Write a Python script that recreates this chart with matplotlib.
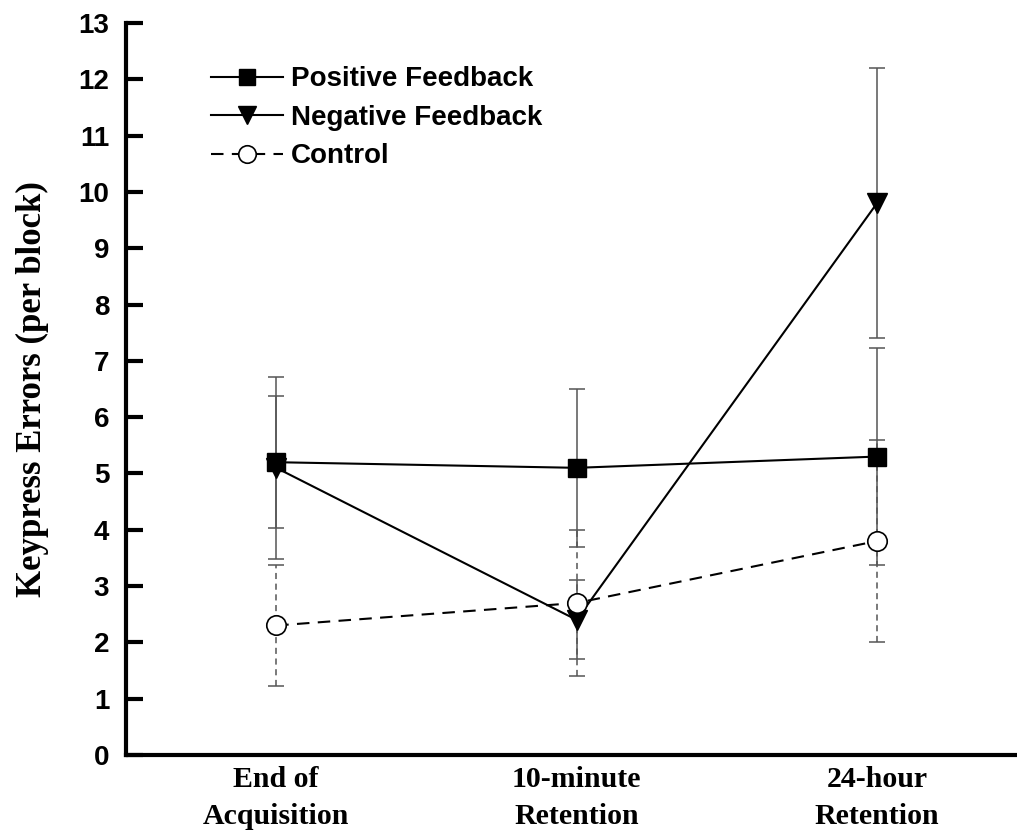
import numpy as np
import matplotlib.pyplot as plt

categories = ['End of\nAcquisition', '10-minute\nRetention', '24-hour\nRetention']
positive = [5.2, 5.1, 5.3]
positive_err = [1.17, 1.4, 1.92]
negative = [5.1, 2.4, 9.8]
negative_err = [1.62, 0.7, 2.4]
control = [2.3, 2.7, 3.8]
control_err = [1.08, 1.29, 1.8]

x = np.arange(len(categories))
err_col = '#555555'

fig = plt.figure(figsize=(10.17, 8.35), dpi=100)
ax = fig.add_axes([126 / 1017, 80 / 835, 1 - 126 / 1017, (755 - 23) / 835])

# error bars first, markers on top
eb = ax.errorbar(x, control, yerr=control_err, fmt='none', ecolor=err_col,
                 elinewidth=1.1, capsize=6, capthick=1.1, zorder=1)
for c in eb[2]:
    c.set_linestyle((0, (4, 3)))
ax.errorbar(x, positive, yerr=positive_err, fmt='none', ecolor=err_col,
            elinewidth=1.1, capsize=6, capthick=1.1, zorder=1)
ax.errorbar(x, negative, yerr=negative_err, fmt='none', ecolor=err_col,
            elinewidth=1.1, capsize=6, capthick=1.1, zorder=1)

ax.plot(x, positive, '-', color='black', lw=1.5, marker='s', ms=13,
        mfc='black', mec='black', label='Positive Feedback', zorder=3)
ax.plot(x, negative, '-', color='black', lw=1.5, marker='v', ms=15,
        mfc='black', mec='black', label='Negative Feedback', zorder=3)
ax.plot(x, control, '--', color='black', lw=1.5, marker='o', ms=14,
        mfc='white', mec='black', mew=1.2, label='Control', zorder=3,
        dashes=(6, 4))

ax.set_xlim(-0.5, 2.466)
ax.set_ylim(0, 13)
ax.set_yticks(range(0, 14))
ax.set_xticks(x)
ax.set_xticklabels(categories, family='Liberation Serif', fontweight='bold',
                   fontsize=21.5, linespacing=1.45)
for lab in ax.get_yticklabels():
    lab.set_family('Liberation Sans')
    lab.set_fontweight('bold')
    lab.set_fontsize(20)

ax.tick_params(axis='y', direction='in', length=12, width=3, pad=12)
ax.tick_params(axis='x', length=0, pad=8)
for side in ['top', 'right']:
    ax.spines[side].set_visible(False)
for side in ['left', 'bottom']:
    ax.spines[side].set_linewidth(3)

ax.set_ylabel('Keypress Errors (per block)', family='Liberation Serif',
              fontweight='bold', fontsize=25, labelpad=21)

leg = ax.legend(loc='upper left', bbox_to_anchor=(0.067, 0.975), frameon=False,
                prop={'family': 'Liberation Sans', 'weight': 'bold', 'size': 20},
                handlelength=2.6, handletextpad=0.3, labelspacing=0.45,
                markerscale=0.9)

fig.savefig('out.png', dpi=100)
